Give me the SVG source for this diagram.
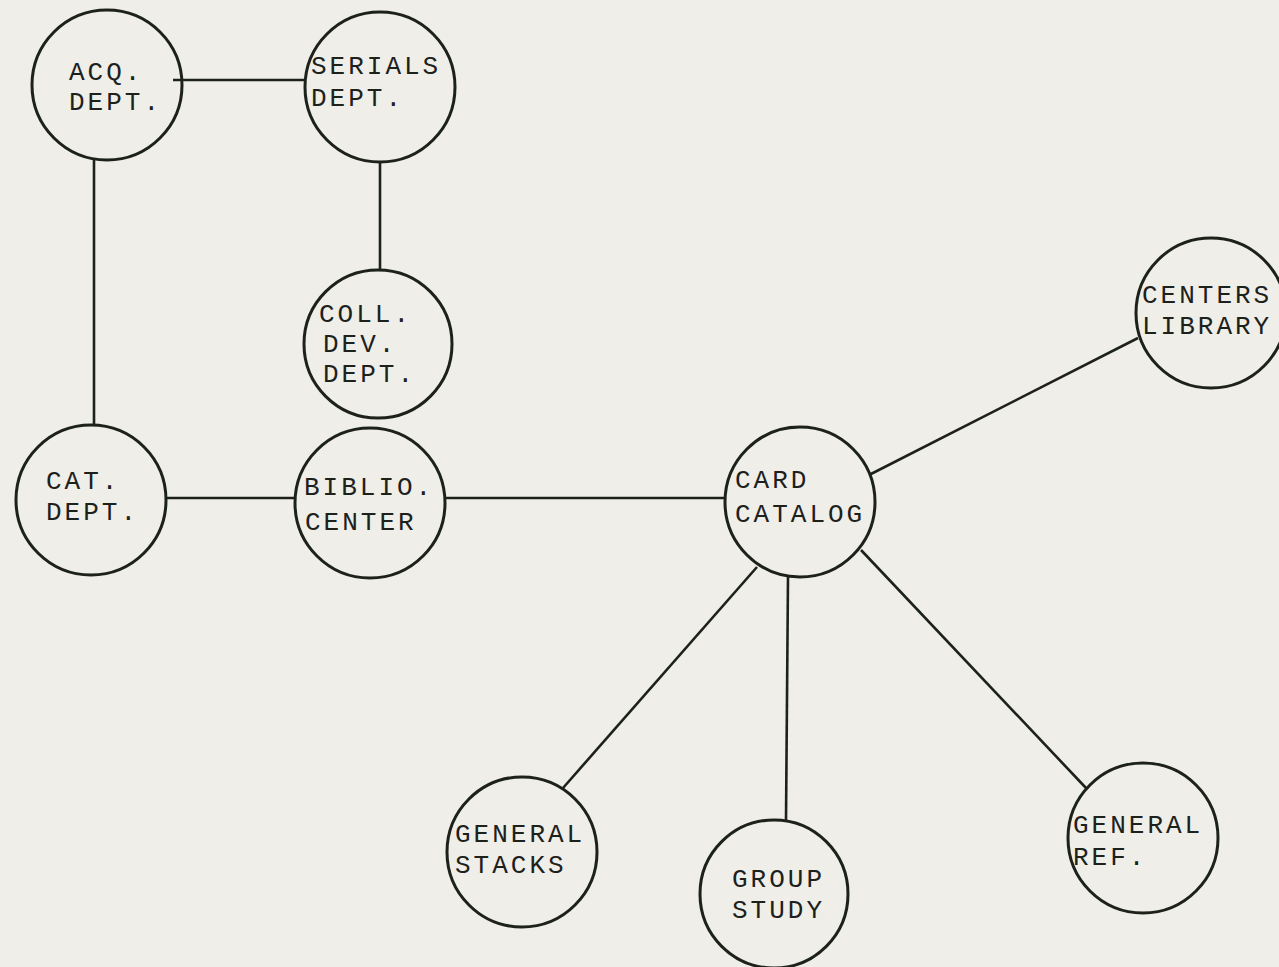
<svg xmlns="http://www.w3.org/2000/svg" width="1279" height="967" viewBox="0 0 1279 967">
<style>
.n circle{fill:none;stroke:#1c211c;stroke-width:3}
.n text{font-family:"Liberation Mono","Courier New",monospace;font-size:26px;letter-spacing:3px;fill:#1c211c}
#edges line{stroke:#1c211c;stroke-width:2.6}
</style>
<rect width="1279" height="967" fill="#efeee8"/>
<g id="edges">
<line x1="173" y1="80" x2="305" y2="80"/>
<line x1="94" y1="160" x2="94" y2="425"/>
<line x1="380" y1="162" x2="380" y2="270"/>
<line x1="167" y1="498" x2="295" y2="498"/>
<line x1="445" y1="498" x2="725" y2="498"/>
<line x1="869" y1="475" x2="1138" y2="338"/>
<line x1="757" y1="567" x2="563" y2="788"/>
<line x1="788" y1="577" x2="786" y2="820"/>
<line x1="861" y1="550" x2="1086" y2="788"/>
</g>
<g id="acq" class="n"><circle cx="107" cy="85" r="75"/><text x="69" y="80">ACQ.</text><text x="69" y="110">DEPT.</text></g>
<g id="serials" class="n"><circle cx="380" cy="87" r="75"/><text x="311" y="74">SERIALS</text><text x="311" y="106">DEPT.</text></g>
<g id="colldev" class="n"><circle cx="378" cy="344" r="74"/><text x="319" y="322">COLL.</text><text x="323" y="352">DEV.</text><text x="323" y="382">DEPT.</text></g>
<g id="cat" class="n"><circle cx="91" cy="500" r="75"/><text x="46" y="489">CAT.</text><text x="46" y="520">DEPT.</text></g>
<g id="biblio" class="n"><circle cx="370" cy="503" r="75"/><text x="304" y="495">BIBLIO.</text><text x="305" y="530">CENTER</text></g>
<g id="card" class="n"><circle cx="800" cy="502" r="75"/><text x="735" y="488">CARD</text><text x="735" y="522">CATALOG</text></g>
<g id="centers" class="n"><circle cx="1211" cy="313" r="75"/><text x="1142" y="303">CENTERS</text><text x="1142" y="334">LIBRARY</text></g>
<g id="stacks" class="n"><circle cx="522" cy="852" r="75"/><text x="455" y="842">GENERAL</text><text x="455" y="873">STACKS</text></g>
<g id="group" class="n"><circle cx="774" cy="894" r="74"/><text x="732" y="887">GROUP</text><text x="732" y="918">STUDY</text></g>
<g id="ref" class="n"><circle cx="1143" cy="838" r="75"/><text x="1073" y="833">GENERAL</text><text x="1073" y="865">REF.</text></g>
</svg>
